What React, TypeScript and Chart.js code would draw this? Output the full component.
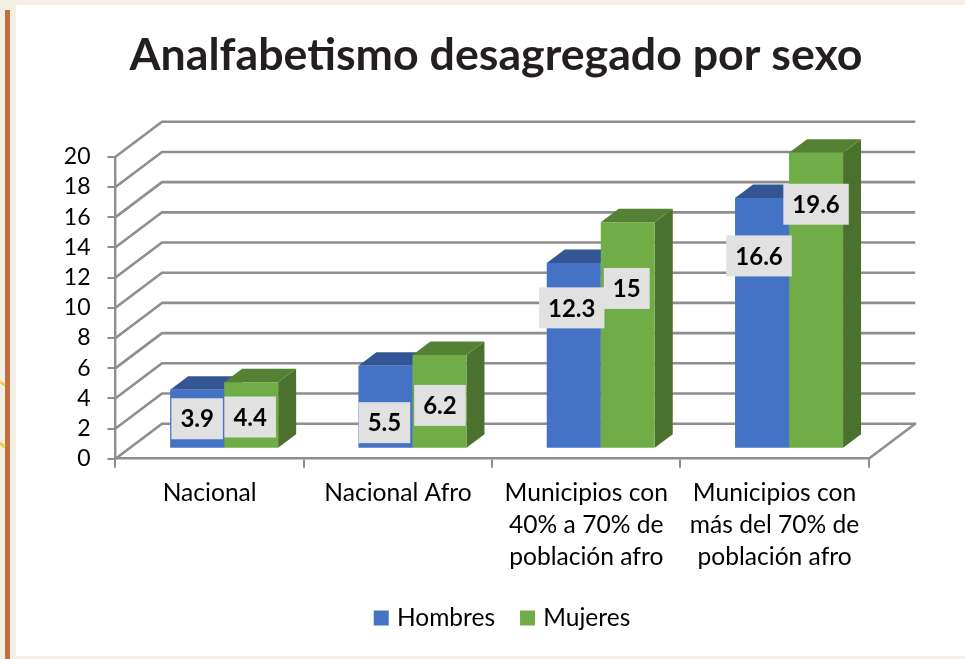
import React, { useEffect, useRef } from "react";
import { Chart, registerables } from "chart.js";

Chart.register(...registerables);

const categories = [
  "Nacional",
  "Nacional Afro",
  ["Municipios con", "40% a 70% de", "población afro"],
  ["Municipios con", "más del 70% de", "población afro"],
];
const hombres = [3.9, 5.5, 12.3, 16.6];
const mujeres = [4.4, 6.2, 15, 19.6];
const yTicks = { min: 0, max: 20, stepSize: 2 };

const FONT = "Lato, 'Open Sans', sans-serif";
const GRID = "#8e8e8e";
const WALL = { dx: 46.5, dy: -35 };
const FLOOR = { dx: 14.5, dy: -10 };
const DEPTH = { dx: 18, dy: -13.5 };
const SHADES = [
  { front: "#4472c4", top: "#335593", side: "#2f5597" },
  { front: "#70ad47", top: "#548235", side: "#4b712f" },
];
// Where each manually placed value label sits relative to its bar's front face
const LABEL_SHIFT = [
  [[0, 0], [-1, 16], [-2, -47.5], [-3, -67]],
  [[-1, 2], [0.5, 4], [-1, -46.5], [0, -96]],
];

const frame = {
  id: "frame",
  beforeDraw(chart: any) {
    const { ctx, width, height } = chart;
    ctx.save();
    ctx.fillStyle = "#f3efe5";
    ctx.fillRect(0, 0, width, height);
    ctx.fillStyle = "#ffffff";
    ctx.fillRect(16, 5, width - 16, 651);
    ctx.fillStyle = "#c06f40";
    ctx.fillRect(5, 10, 5, height - 10);
    ctx.strokeStyle = "#f8c94f";
    ctx.lineWidth = 3;
    [[382, 385], [443, 447]].forEach(([a, b]) => {
      ctx.beginPath();
      ctx.moveTo(0, a);
      ctx.lineTo(5, b);
      ctx.stroke();
    });
    ctx.restore();
  },
  afterLayout(chart: any) {
    chart.titleBlock.left = 27;
    chart.titleBlock.right = 965;
    chart.legend.left = 43;
    chart.legend.right = 965;
    chart.legend.top = 576.7;
  },
};

const walls = {
  id: "walls",
  beforeDatasetsDraw(chart: any) {
    const { ctx, scales } = chart;
    const { left, right } = chart.chartArea;
    const y = scales.y;
    ctx.save();
    ctx.strokeStyle = GRID;
    ctx.lineWidth = 2.6;
    ctx.lineJoin = "round";
    y.ticks.forEach((t: any) => {
      const py = y.getPixelForValue(t.value);
      ctx.beginPath();
      ctx.moveTo(left, py);
      ctx.lineTo(left + WALL.dx, py + WALL.dy);
      ctx.lineTo(right + WALL.dx, py + WALL.dy);
      if (t.value === yTicks.min) {
        ctx.lineTo(right, py);
      }
      ctx.stroke();
    });
    // Top and side faces of the bars, blue first so green sits in front
    ctx.translate(FLOOR.dx, FLOOR.dy);
    chart.data.datasets.forEach((_: any, i: number) => {
      const shade = SHADES[i];
      chart.getDatasetMeta(i).data.forEach((bar: any) => {
        const l = bar.x - bar.width / 2;
        const r = bar.x + bar.width / 2;
        ctx.fillStyle = shade.side;
        ctx.beginPath();
        ctx.moveTo(r, bar.base);
        ctx.lineTo(r + DEPTH.dx, bar.base + DEPTH.dy);
        ctx.lineTo(r + DEPTH.dx, bar.y + DEPTH.dy);
        ctx.lineTo(r, bar.y);
        ctx.closePath();
        ctx.fill();
        ctx.fillStyle = shade.top;
        ctx.beginPath();
        ctx.moveTo(l, bar.y);
        ctx.lineTo(l + DEPTH.dx, bar.y + DEPTH.dy);
        ctx.lineTo(r + DEPTH.dx, bar.y + DEPTH.dy);
        ctx.lineTo(r, bar.y);
        ctx.closePath();
        ctx.fill();
      });
    });
    ctx.restore();
  },
};

const fronts = {
  id: "fronts",
  beforeDatasetDraw(chart: any) {
    chart.ctx.save();
    chart.ctx.translate(FLOOR.dx, FLOOR.dy);
  },
  afterDatasetDraw(chart: any) {
    chart.ctx.restore();
  },
};

const valueLabels = {
  id: "valueLabels",
  afterDatasetsDraw(chart: any) {
    const { ctx } = chart;
    ctx.save();
    ctx.font = `bold 24px ${FONT}`;
    ctx.textAlign = "center";
    ctx.textBaseline = "middle";
    chart.data.datasets.forEach((ds: any, i: number) => {
      chart.getDatasetMeta(i).data.forEach((bar: any, j: number) => {
        const v = String(ds.data[j]);
        const w = ctx.measureText(v).width + 18;
        const [sx, sy] = LABEL_SHIFT[i][j];
        const cx = bar.x + FLOOR.dx + sx;
        const cy = (bar.y + bar.base) / 2 + FLOOR.dy + sy;
        ctx.fillStyle = "#e1e1e1";
        ctx.fillRect(cx - w / 2, cy - 20.5, w, 41);
        ctx.fillStyle = "#000000";
        ctx.fillText(v, cx, cy + 1);
      });
    });
    ctx.restore();
  },
};

export default function App() {
  const ref = useRef<HTMLCanvasElement>(null);
  useEffect(() => {
    const chart = new Chart(ref.current as HTMLCanvasElement, {
      type: "bar",
      data: {
        labels: categories as any,
        datasets: [
          { label: "Hombres", data: hombres, backgroundColor: SHADES[0].front, clip: false as any },
          { label: "Mujeres", data: mujeres, backgroundColor: SHADES[1].front, clip: false as any },
        ],
      },
      options: {
        animation: false,
        responsive: false,
        layout: { padding: { left: 0, right: 96.3, top: 0, bottom: 0 } },
        datasets: { bar: { categoryPercentage: 0.5736, barPercentage: 1 } },
        plugins: {
          tooltip: { enabled: false },
          title: {
            display: true,
            text: "Analfabetismo desagregado por sexo",
            color: "#231f20",
            font: { family: FONT, size: 44.7, weight: "bold", lineHeight: 1.2 },
            padding: { top: 29, bottom: 74.1 },
          },
          legend: {
            display: true,
            position: "bottom",
            labels: {
              boxWidth: 7,
              boxHeight: 7,
              color: "#000000",
              padding: 29,
              font: { family: FONT, size: 24.5 },
              generateLabels: (c: any) =>
                (Chart.defaults.plugins.legend.labels.generateLabels as any)(c).map((l: any) => ({
                  ...l,
                  lineWidth: 8,
                  strokeStyle: l.fillStyle,
                })),
            },
          },
        },
        scales: {
          x: {
            grid: { drawOnChartArea: false, tickLength: 9, color: GRID, lineWidth: 2 },
            border: { color: GRID, width: 2.6 },
            ticks: {
              color: "#000000",
              padding: 9.5,
              maxRotation: 0,
              autoSkip: false,
              font: { family: FONT, size: 24.6, lineHeight: 1.3 },
            },
            afterFit: (s: any) => {
              s.height = 200.3 - s.chart.legend.height;
            },
          },
          y: {
            min: yTicks.min,
            max: yTicks.max,
            grid: { drawOnChartArea: false, tickLength: 8, color: GRID, lineWidth: 2 },
            border: { color: GRID, width: 2.4 },
            ticks: {
              stepSize: yTicks.stepSize,
              autoSkip: false,
              color: "#000000",
              padding: 17,
              font: { family: FONT, size: 23 },
            },
            afterFit: (s: any) => {
              s.width = 115.5;
            },
          },
        },
      },
      plugins: [frame, walls, fronts, valueLabels],
    } as any);
    return () => chart.destroy();
  }, []);
  return (
    <div style={{ position: "fixed", left: 0, top: 0, width: 965, height: 659 }}>
      <canvas ref={ref} width={965} height={659} style={{ display: "block" }} />
    </div>
  );
}
